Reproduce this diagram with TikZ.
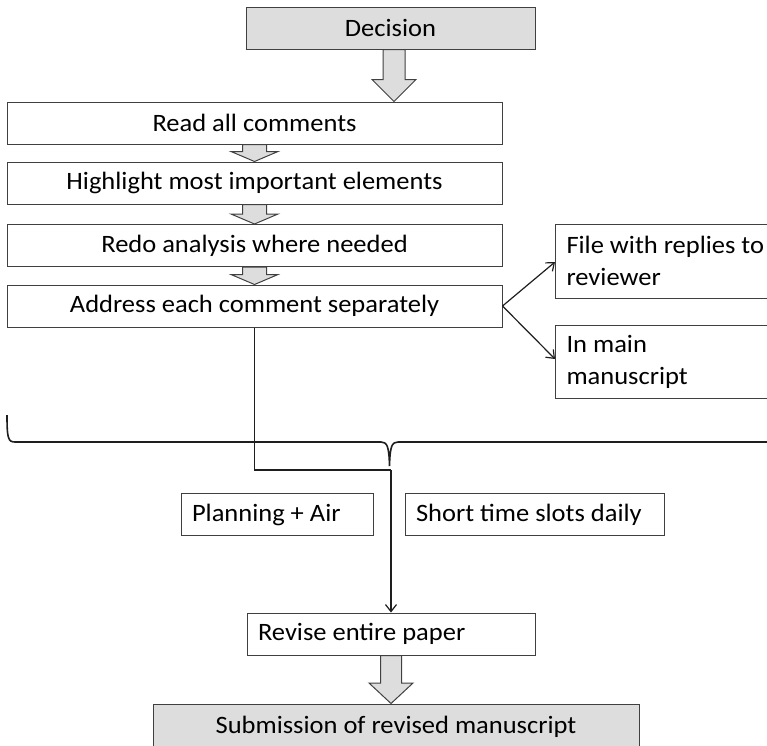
\documentclass[tikz,border=0pt]{standalone}
\usepackage{fontspec}
\setmainfont{Carlito}[FakeStretch=1.06]
\usetikzlibrary{arrows.meta,calc}

\definecolor{boxgray}{RGB}{221,221,221}
\definecolor{linegray}{RGB}{30,30,30}

\tikzset{every picture/.style={line width=1pt}}
\tikzset{
  box/.style={draw=linegray!85, minimum height=42, inner sep=0pt, font=\fontsize{25}{32}\selectfont},
  graybox/.style={box, fill=boxgray},
  leftbox/.style={box, align=flush left, text width=#1, inner xsep=11pt},
  fat/.style={draw=linegray!85, fill=boxgray},
  thinarrow/.style={draw=linegray, line width=1.2pt, -{Straight Barb[length=7pt,width=11pt]}}
}

% #1 x offset, #2 from node, #3 to node, #4 half shaft, #5 half head, #6 head length
\newcommand{\bigarrow}[6][0]{%
  \draw[fat] ($(#2.south)+(#1-#4,0)$) -- ($(#2.south |- #3.north)+(#1-#4,-#6)$)
    -- ($(#2.south |- #3.north)+(#1-#5,-#6)$) -- ($(#2.south |- #3.north)+(#1,0)$)
    -- ($(#2.south |- #3.north)+(#1+#5,-#6)$) -- ($(#2.south |- #3.north)+(#1+#4,-#6)$)
    -- ($(#2.south)+(#1+#4,0)$) -- cycle;}

\begin{document}
\begin{tikzpicture}[x=1pt,y=1pt,yscale=-1,xscale=1]
	\useasboundingbox (0,0) rectangle (767,745);
	\clip (0,0) rectangle (767,745);

	% steps
	\node[graybox, minimum width=289] (dec) at (390.5,28) {Decision};
	\node[box, minimum width=495] (read) at (254.5,123) {Read all comments};
	\node[box, minimum width=495] (high) at (254.5,183) {Highlight most important elements};
	\node[box, minimum width=495] (redo) at (254.5,245.5) {Redo analysis where needed};
	\node[box, minimum width=495] (addr) at (254.5,306) {Address each comment separately};

	% side boxes
	\node[leftbox=215, minimum height=74, anchor=west] (reply) at (555,261) {File with replies to\\reviewer};
	\node[leftbox=215, minimum height=73, anchor=west] (main) at (555,361.5) {In main\\manuscript};

	% time boxes
	\node[leftbox=170, anchor=west] (plan) at (180.5,514.5) {Planning + Air};
	\node[leftbox=237, anchor=west] (short) at (404.5,514.5) {Short time slots daily};

	\node[leftbox=266, anchor=west] (rev) at (246.5,634) {Revise entire paper};
	\node[graybox, minimum width=486, minimum height=46] (sub) at (396,727) {Submission of revised manuscript};

	% block arrows
	\bigarrow[3.5]{dec}{read}{11}{22}{22}
	\bigarrow{read}{high}{12}{23.5}{10}
	\bigarrow{high}{redo}{12}{23.5}{10}
	\bigarrow{redo}{addr}{12}{23.5}{10}
	\bigarrow{rev}{sub}{10.5}{22}{20.5}

	% replies
	\draw[thinarrow] (addr.east) -- ([yshift=1pt]reply.west);
	\draw[thinarrow] (addr.east) -- ([yshift=-2.5pt]main.west);

	% brace
	\draw[linegray, line width=1.6pt] (7,415) .. controls (7,438) and (8,442) .. (15,442) -- (381,442)
	  .. controls (387,442) and (389,446) .. (389.5,466) .. controls (390,446) and (392,442) .. (398,442) -- (790,442);

	% to revision
	\coordinate (join) at (rev.north |- 0,470);
	\draw[linegray, line width=1.2pt] (addr.south) |- (join);
	\draw[thinarrow] (join) -- (rev.north);
\end{tikzpicture}
\end{document}
